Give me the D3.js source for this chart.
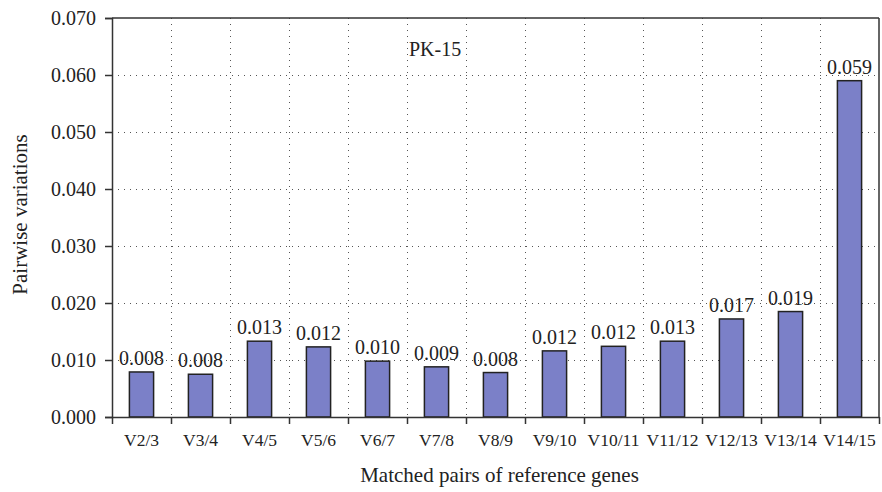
<!DOCTYPE html>
<html><head><meta charset="utf-8">
<script src="https://cdn.jsdelivr.net/npm/d3@7"></script>
<style>
html,body{margin:0;padding:0;background:#fff;}
</style></head>
<body><svg id="c" width="882" height="492"></svg>
<script>
const categories = ["V2/3","V3/4","V4/5","V5/6","V6/7","V7/8","V8/9","V9/10","V10/11","V11/12","V12/13","V13/14","V14/15"];
const values = [0.0079,0.0075,0.0133,0.0123,0.0098,0.0088,0.0078,0.0116,0.0124,0.0133,0.0172,0.0185,0.0590];
const valueLabels = ["0.008","0.008","0.013","0.012","0.010","0.009","0.008","0.012","0.012","0.013","0.017","0.019","0.059"];
const yTicks = [0,0.01,0.02,0.03,0.04,0.05,0.06,0.07];
const panelLabel = "PK-15";
const xTitle = "Matched pairs of reference genes";
const yTitle = "Pairwise variations";

const FONT = "Liberation Serif, Times New Roman, serif";
const m = {l:112, t:18, r:3, b:75};
const W = 882, H = 492;
const svg = d3.select("#c");
const x = d3.scaleBand().domain(categories).range([m.l, W-m.r]).paddingInner(0).paddingOuter(0);
const y = d3.scaleLinear().domain([0,0.07]).range([H-m.b, m.t]);
const fs = 20;

// grid
const grid = svg.append("g").attr("stroke","#555").attr("stroke-width",1).attr("stroke-dasharray","1,5");
yTicks.slice(1,-1).forEach(t=>{
  grid.append("line").attr("x1",m.l).attr("x2",W-m.r).attr("y1",Math.round(y(t))+0.5).attr("y2",Math.round(y(t))+0.5);
});
categories.slice(1).forEach(c=>{
  const xx = Math.round(x(c))+0.5;
  grid.append("line").attr("x1",xx).attr("x2",xx).attr("y1",m.t).attr("y2",H-m.b);
});

// bars
svg.append("g").selectAll("rect").data(values).join("rect")
  .attr("x",(d,i)=>x(categories[i])+x.bandwidth()*0.295)
  .attr("width",x.bandwidth()*0.41)
  .attr("y",d=>y(d))
  .attr("height",d=>y(0)-y(d))
  .attr("fill","#7b80c8").attr("stroke","#222").attr("stroke-width",1.5);

// value labels
svg.append("g").selectAll("text").data(values).join("text")
  .attr("x",(d,i)=>x(categories[i])+x.bandwidth()/2)
  .attr("y",d=>y(d)-7)
  .attr("text-anchor","middle").attr("font-size",fs).attr("font-family",FONT).attr("fill","#222")
  .text((d,i)=>valueLabels[i]);

// axes
const yAxis = d3.axisLeft(y).tickValues(yTicks).tickFormat(d3.format(".3f")).tickSize(7).tickPadding(9);
const gy = svg.append("g").attr("transform",`translate(${m.l},0)`).call(yAxis);
const xAxis = d3.axisBottom(x).tickSize(0).tickPadding(17);
const gx = svg.append("g").attr("transform",`translate(0,${H-m.b})`).call(xAxis);
[gx,gy].forEach(g=>{
  g.attr("font-family",FONT).attr("font-size",fs);
  g.select(".domain").attr("stroke","#333").attr("stroke-width",1.5);
  g.selectAll("line").attr("stroke","#333").attr("stroke-width",1.5);
  g.selectAll("text").attr("fill","#222");
});
gx.attr("font-size",17.5);
// x boundary ticks
const bounds = categories.map(c=>x(c)).concat([W-m.r]);
svg.append("g").selectAll("line").data(bounds).join("line")
  .attr("x1",d=>Math.round(d)+0.5).attr("x2",d=>Math.round(d)+0.5)
  .attr("y1",H-m.b).attr("y2",H-m.b+7).attr("stroke","#333").attr("stroke-width",1.5);

// frame top & right
svg.append("line").attr("x1",m.l).attr("x2",W-m.r).attr("y1",m.t).attr("y2",m.t).attr("stroke","#333").attr("stroke-width",1.5);
svg.append("line").attr("x1",W-m.r).attr("x2",W-m.r).attr("y1",m.t).attr("y2",H-m.b).attr("stroke","#333").attr("stroke-width",1.5);

// titles
svg.append("text").attr("x",(m.l+W-m.r)/2+4).attr("y",482).attr("text-anchor","middle").attr("font-size",21).attr("font-family",FONT).attr("fill","#222").text(xTitle);
svg.append("text").attr("transform",`translate(27,${(m.t+H-m.b)/2-3}) rotate(-90)`).attr("text-anchor","middle").attr("font-size",21).attr("font-family",FONT).attr("fill","#222").text(yTitle);
svg.append("text").attr("x",x("V7/8")+2).attr("y",56).attr("font-size",fs).attr("font-family",FONT).attr("fill","#222").text(panelLabel);
</script></body></html>
